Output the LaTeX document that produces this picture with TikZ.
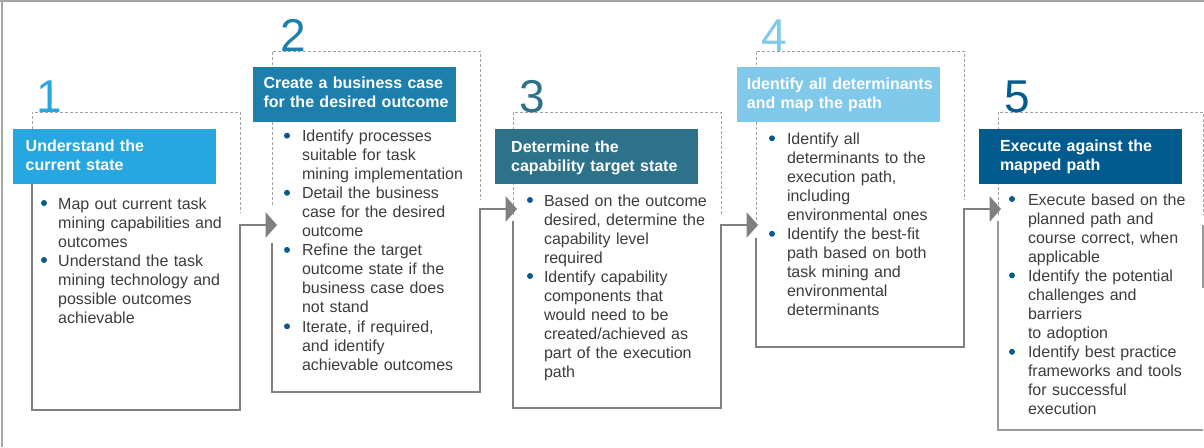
\documentclass[tikz,border=0pt]{standalone}
\usepackage{fontspec}
\setmainfont{Liberation Sans}
\usetikzlibrary{calc}
\definecolor{cA}{HTML}{27A7DF}
\definecolor{cB}{HTML}{1C7FAC}
\definecolor{cC}{HTML}{2D728A}
\definecolor{cD}{HTML}{80C9EB}
\definecolor{cE}{HTML}{025B8E}
\definecolor{txt}{HTML}{3C3C3C}
\definecolor{dotblue}{HTML}{0B5A8E}
\definecolor{dashgray}{HTML}{A3A3A3}
\definecolor{flowgray}{HTML}{808080}
\definecolor{framegray}{HTML}{A6A6A6}
\definecolor{thingray}{HTML}{9A9A9A}
\begin{document}
\begin{tikzpicture}[x=1pt,y=-1pt,
  dashline/.style={draw=dashgray, line width=0.9pt, dash pattern=on 3pt off 2pt},
  flow/.style={draw=flowgray, line width=2.7pt, line join=miter},
  headfill/.style={fill=flowgray},
  thinflow/.style={draw=thingray, line width=1.3pt},
  hdr/.style={fill=#1, inner sep=0pt, outer sep=0pt, anchor=north west, minimum width=203pt, minimum height=55pt},
  hdrtext/.style={text=white, font=\fontsize{16}{19}\selectfont\bfseries, anchor=base west, inner sep=0pt, text width=200pt, align=left},
  body/.style={text=txt, font=\fontsize{16}{19}\selectfont, anchor=base west, inner sep=0pt, text width=185pt, align=left},
  dot/.style={circle, fill=dotblue, inner sep=0pt, minimum size=6pt},
  num/.style={font=\fontsize{46}{46}\selectfont, anchor=base west, inner sep=0pt, text=#1}]
\useasboundingbox (0,0) rectangle (1204,447);
% frame
\draw[framegray, line width=1.5pt] (0,0.75) -- (1204,0.75);
\draw[framegray, line width=1.5pt] (2,0) -- (2,447);
% dashed outlines
\draw[dashline] (32,184) -- (32,112) -- (240,112) -- (240,213);
\draw[dashline] (272,205) -- (272,51) -- (480,51) -- (480,200);
\draw[dashline] (513,215) -- (513,112) -- (721,112) -- (721,215);
\draw[dashline] (756,220) -- (756,51) -- (964,51) -- (964,200);
\draw[dashline] (998,215) -- (998,112) -- (1203,112) -- (1203,215);
% headers
\node[hdr=cA] (h1) at (13,129) {};
\node[hdr=cB] (h2) at (253,67) {};
\node[hdr=cC] (h3) at (495,129) {};
\node[hdr=cD] (h4) at (737,67) {};
\node[hdr=cE] (h5) at (979,129) {};
\node[hdrtext] (h1t) at (25.5,151.7) {Understand the\\current state};
\node[hdrtext] (h2t) at (263.3,88.7) {Create a business case\\for the desired outcome};
\node[hdrtext] (h3t) at (511,152) {Determine the\\capability target state};
\node[hdrtext] (h4t) at (746.7,89) {Identify all determinants\\and map the path};
\node[hdrtext] (h5t) at (999.8,151.7) {Execute against the\\mapped path};
% flow coordinates
\coordinate (b1s) at (32,184);  \coordinate (b1bl) at (32,410);  \coordinate (b1br) at (240,410);  \coordinate (b1out) at (240,225);
\coordinate (b2in) at (277,225);
\coordinate (b2s) at (272,243); \coordinate (b2bl) at (272,392); \coordinate (b2br) at (480,392); \coordinate (b2out) at (480,209);
\coordinate (b3in) at (517,209);
\coordinate (b3s) at (513,221); \coordinate (b3bl) at (513,408); \coordinate (b3br) at (721,408); \coordinate (b3out) at (721,225);
\coordinate (b4in) at (758,225);
\coordinate (b4s) at (756,238); \coordinate (b4bl) at (756,347); \coordinate (b4br) at (964,347); \coordinate (b4out) at (964,209);
\coordinate (b5in) at (1001,209);
\coordinate (b5s) at (998,221); \coordinate (b5bl) at (998,430); \coordinate (b5br) at (1203,430);
\coordinate (b5rs) at (1203,225); \coordinate (b5re) at (1203,288);
% solid flow lines with arrowheads
\draw[flow] (b1s) -- (b1bl) -- (b1br) -- (b1out) -- ($(b2in)+(-10,0)$);
\fill[headfill] (b2in) -- ++(-11.5,-13) -- ++(0,26) -- cycle;
\draw[flow] (b2s) -- (b2bl) -- (b2br) -- (b2out) -- ($(b3in)+(-10,0)$);
\fill[headfill] (b3in) -- ++(-11.5,-13) -- ++(0,26) -- cycle;
\draw[flow] (b3s) -- (b3bl) -- (b3br) -- (b3out) -- ($(b4in)+(-10,0)$);
\fill[headfill] (b4in) -- ++(-11.5,-13) -- ++(0,26) -- cycle;
\draw[flow] (b4s) -- (b4bl) -- (b4br) -- (b4out) -- ($(b5in)+(-10,0)$);
\fill[headfill] (b5in) -- ++(-11.5,-13) -- ++(0,26) -- cycle;
\draw[thinflow] (b5s) -- (b5bl) -- (b5br);
\draw[thinflow] (b5rs) -- (b5re);
% numbers
\node[num=cA] (n1) at (36.7,112) {1};
\node[num=cB] (n2) at (280.3,51) {2};
\node[num=cC] (n3) at (519.7,112) {3};
\node[num=cD] (n4) at (761.5,51) {4};
\node[num=cE] (n5) at (1004.7,112) {5};
% box 1 text
\node[dot] (d1a) at (44,203) {};
\node[body] (t1a) at (58,209) {Map out current task\\mining capabilities and\\outcomes};
\node[dot] (d1b) at (44,260) {};
\node[body] (t1b) at (58,266) {Understand the task\\mining technology and\\possible outcomes\\achievable};
% box 2 text
\node[dot] (d2a) at (287,135.7) {};
\node[body] (t2a) at (301.8,141.7) {Identify processes\\suitable for task\\mining implementation};
\node[dot] (d2b) at (287,192.8) {};
\node[body] (t2b) at (301.8,198.8) {Detail the business\\case for the desired\\outcome};
\node[dot] (d2c) at (287,249.9) {};
\node[body] (t2c) at (301.8,255.9) {Refine the target\\outcome state if the\\business case does\\not stand};
\node[dot] (d2d) at (287,326.3) {};
\node[body] (t2d) at (301.8,332.3) {Iterate, if required,\\and identify\\achievable outcomes};
% box 3 text
\node[dot] (d3a) at (530,200) {};
\node[body] (t3a) at (543.8,206) {Based on the outcome\\desired, determine the\\capability level\\required};
\node[dot] (d3b) at (530,276) {};
\node[body] (t3b) at (543.8,282) {Identify capability\\components that\\would need to be\\created/achieved as\\part of the execution\\path};
% box 4 text
\node[dot] (d4a) at (772,138.3) {};
\node[body] (t4a) at (786.8,144.3) {Identify all\\determinants to the\\execution path,\\including\\environmental ones};
\node[dot] (d4b) at (772,233.8) {};
\node[body] (t4b) at (786.8,239.8) {Identify the best-fit\\path based on both\\task mining and\\environmental\\determinants};
% box 5 text
\node[dot] (d5a) at (1012,199) {};
\node[body] (t5a) at (1027.8,205) {Execute based on the\\planned path and\\course correct, when\\applicable};
\node[dot] (d5b) at (1012,275.4) {};
\node[body] (t5b) at (1027.8,281.4) {Identify the potential\\challenges and\\barriers\\to adoption};
\node[dot] (d5c) at (1012,351.8) {};
\node[body] (t5c) at (1027.8,357.8) {Identify best practice\\frameworks and tools\\for successful\\execution};
\end{tikzpicture}
\end{document}
